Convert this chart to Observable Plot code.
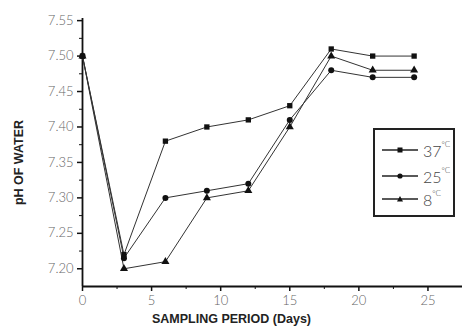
<!DOCTYPE html>
<html>
<head>
<meta charset="utf-8">
<script src="https://cdn.jsdelivr.net/npm/d3@7"></script>
<script src="https://cdn.jsdelivr.net/npm/@observablehq/plot@0.6"></script>
<style>
  html, body { margin: 0; padding: 0; background: #fff; }
  #wrap { position: relative; width: 464px; height: 329px; overflow: hidden; }
  #wrap svg { display: block; }
  #legend { position: absolute; left: 373px; top: 128px; width: 78px; height: 85px; border: 2px solid #222; background: #fff; }
  .row { position: absolute; left: 7px; height: 18px; display: flex; align-items: center; }
  .row span { font-family: Lato, sans-serif; font-weight: 300; font-size: 16px; color: #444; margin-left: 5px; }
  .row sup { font-size: 8px; position: relative; top: -3px; }
</style>
</head>
<body>
<div id="wrap"></div>
<script>
const days = [0, 3, 6, 9, 12, 15, 18, 21, 24];
const ph37 = [7.50, 7.22, 7.38, 7.40, 7.41, 7.43, 7.51, 7.50, 7.50];
const ph25 = [7.50, 7.215, 7.30, 7.31, 7.32, 7.41, 7.48, 7.47, 7.47];
const ph8  = [7.50, 7.20, 7.21, 7.30, 7.31, 7.40, 7.50, 7.48, 7.48];
const seriesNames = ["37", "25", "8"];
const seriesSymbols = ["square", "circle", "triangle"];
const xTicks = [0, 5, 10, 15, 20, 25];
const xMinor = [2.5, 7.5, 12.5, 17.5, 22.5];
const yTicks = [7.20, 7.25, 7.30, 7.35, 7.40, 7.45, 7.50, 7.55];
const yMinor = [7.225, 7.275, 7.325, 7.375, 7.425, 7.475, 7.525];
const xLabel = "SAMPLING PERIOD (Days)";
const yLabel = "pH OF WATER";

const allSeries = [ph37, ph25, ph8];
const data = [];
allSeries.forEach((vals, s) => vals.forEach((v, i) => data.push({day: days[i], ph: v, series: seriesNames[s], symbol: seriesSymbols[s]})));

const tickFont = {fontFamily: "Lato, sans-serif", fontWeight: 300, fontSize: 13, fill: "#666", letterSpacing: "1.3px"};
const labelFont = {fontFamily: "Liberation Sans, Arial, sans-serif", fontWeight: "bold", fontSize: 12.5, fill: "#222"};

const chart = Plot.plot({
  width: 464,
  height: 329,
  marginLeft: 82,
  marginRight: 2,
  marginTop: 18,
  marginBottom: 43,
  x: {domain: [0, 27.5]},
  y: {domain: [7.175, 7.553]},
  style: {background: "#fff", color: "#222", fontFamily: "Lato, sans-serif"},
  marks: [
    Plot.axisY({ticks: yTicks, tickFormat: ".2f", tickSize: 5, tickPadding: 4, strokeWidth: 1.5, stroke: "#111", label: null, ...tickFont}),
    Plot.axisY({ticks: yMinor, tickSize: 3, tickFormat: () => "", label: null, stroke: "#111"}),
    Plot.axisX({ticks: xTicks, tickSize: 5, tickPadding: 4, strokeWidth: 1.5, stroke: "#111", label: null, ...tickFont}),
    Plot.axisX({ticks: xMinor, tickSize: 3, tickFormat: () => "", label: null, stroke: "#111"}),
    Plot.ruleX([0], {stroke: "#111", strokeWidth: 1.8}),
    Plot.ruleY([7.175], {stroke: "#111", strokeWidth: 1.8}),
    Plot.line(data, {x: "day", y: "ph", z: "series", stroke: "#333", strokeWidth: 1}),
    Plot.dot(data, {x: "day", y: "ph", symbol: "symbol", fill: "#111", stroke: "none", r: 3}),
    Plot.text([xLabel], {frameAnchor: "bottom-left", dx: 149, dy: 36, textAnchor: "middle", letterSpacing: "0.4px", ...labelFont}),
    Plot.text([yLabel], {frameAnchor: "left", rotate: -90, dx: -64, dy: 10, textAnchor: "middle", letterSpacing: "0.8px", ...labelFont})
  ]
});
document.getElementById("wrap").appendChild(chart);

// Legend
const legend = document.createElement("div");
legend.id = "legend";
const rowTops = [11, 37, 60];
const symPaths = {
  square: '<rect x="15.5" y="2.5" width="5" height="5" fill="#111"/>',
  circle: '<circle cx="18" cy="5" r="2.6" fill="#111"/>',
  triangle: '<path d="M18 2 L21 7.5 L15 7.5 Z" fill="#111"/>'
};
seriesNames.forEach((name, i) => {
  const row = document.createElement("div");
  row.className = "row";
  row.style.top = rowTops[i] + "px";
  row.innerHTML = '<svg width="36" height="10"><line x1="0" y1="5" x2="36" y2="5" stroke="#222" stroke-width="1.5"/>' +
    symPaths[seriesSymbols[i]] + '</svg><span>' + name + '<sup>°C</sup></span>';
  legend.appendChild(row);
});
document.getElementById("wrap").appendChild(legend);
</script>
</body>
</html>
